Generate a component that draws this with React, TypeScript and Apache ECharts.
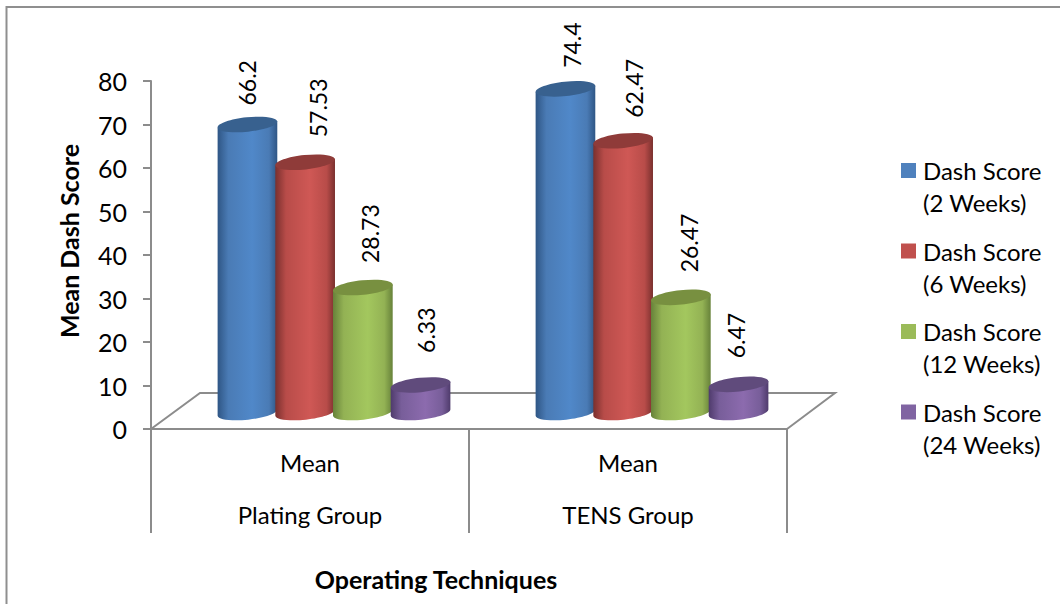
import React, { useEffect, useRef } from "react";
import * as echarts from "echarts";

const groups = ["Plating Group", "TENS Group"];
const statistics = ["Mean", "Mean"];
const seriesNames = [
  "Dash Score (2 Weeks)",
  "Dash Score (6 Weeks)",
  "Dash Score (12 Weeks)",
  "Dash Score (24 Weeks)",
];
const week2 = [66.2, 74.4];
const week6 = [57.53, 62.47];
const week12 = [28.73, 26.47];
const week24 = [6.33, 6.47];
const seriesValues = [week2, week6, week12, week24];

const FONT = "Lato";
const AXIS_GREY = "#8c8c8c";

// legend swatch, cylinder edge, cylinder highlight, top cap
const palette = [
  { base: "#4a7bb5", edge: "#2f5685", light: "#5088c9", cap: "#38618f" },
  { base: "#b84c49", edge: "#7a302e", light: "#cf5855", cap: "#8f3b39" },
  { base: "#93b254", edge: "#67823a", light: "#a3c75e", cap: "#789040" },
  { base: "#785e9a", edge: "#4f3b6c", light: "#8c6bae", cap: "#604b7c" },
];
const legendColors = ["#4f81bd", "#c0504d", "#9bbb59", "#8064a2"];

const BAR_RX = 30;
const CAP_RY = 7.2;
const TILT = (-6 * Math.PI) / 180;
const BAR_STEP = 57.7; // horizontal distance between neighbouring cylinders
const DEPTH_X = 24; // floor shift of the bars towards the back of the box
const DEPTH_Y = 16.5;

// value label nudges [dx, gap above cap centre], per series then per group
const labelNudge = [
  [[0, 19], [7, 21]],
  [[12.5, 25], [11, 23]],
  [[7, 24.5], [8, 25]],
  [[5, 32], [-3, 26]],
];

const KAPPA = 0.5523;
const MAJOR = { x: BAR_RX * Math.cos(TILT), y: BAR_RX * Math.sin(TILT) };
const MINOR = { x: -CAP_RY * Math.sin(TILT), y: CAP_RY * Math.cos(TILT) };

// Half of a tilted ellipse, from the centre minus `a` to the centre plus `a`, bulging along `b`.
function halfEllipse(ctx: any, cx: number, cy: number, a: any, b: any) {
  ctx.bezierCurveTo(
    cx - a.x + KAPPA * b.x, cy - a.y + KAPPA * b.y,
    cx + b.x - KAPPA * a.x, cy + b.y - KAPPA * a.y,
    cx + b.x, cy + b.y
  );
  ctx.bezierCurveTo(
    cx + b.x + KAPPA * a.x, cy + b.y + KAPPA * a.y,
    cx + a.x + KAPPA * b.x, cy + a.y + KAPPA * b.y,
    cx + a.x, cy + a.y
  );
}

const neg = (v: any) => ({ x: -v.x, y: -v.y });

echarts.graphic.registerShape(
  "cylinderBody",
  echarts.graphic.extendShape({
    shape: { cx: 0, top: 0, base: 0 },
    buildPath(ctx: any, s: any) {
      ctx.moveTo(s.cx - MAJOR.x, s.top - MAJOR.y);
      ctx.lineTo(s.cx - MAJOR.x, s.base - MAJOR.y);
      halfEllipse(ctx, s.cx, s.base, MAJOR, MINOR);
      ctx.lineTo(s.cx + MAJOR.x, s.top + MAJOR.y);
      ctx.closePath();
    },
  })
);

echarts.graphic.registerShape(
  "cylinderCap",
  echarts.graphic.extendShape({
    shape: { cx: 0, top: 0 },
    buildPath(ctx: any, s: any) {
      ctx.moveTo(s.cx - MAJOR.x, s.top - MAJOR.y);
      halfEllipse(ctx, s.cx, s.top, MAJOR, neg(MINOR));
      halfEllipse(ctx, s.cx, s.top, neg(MAJOR), MINOR);
      ctx.closePath();
    },
  })
);

function cylinderRenderer(seriesIndex: number) {
  const colors = palette[seriesIndex];
  return (params: any, api: any) => {
    const group = api.value(0);
    const value = api.value(1);
    const topPt = api.coord([group, value]);
    const zeroPt = api.coord([group, 0]);
    const cx = topPt[0] + DEPTH_X + (seriesIndex - 1.5) * BAR_STEP;
    const top = topPt[1] - DEPTH_Y;
    const base = zeroPt[1] - DEPTH_Y;
    const nudge = labelNudge[seriesIndex][group];
    return {
      type: "group",
      children: [
        {
          type: "cylinderBody",
          shape: { cx, top, base },
          style: {
            fill: new echarts.graphic.LinearGradient(0, 0, 1, 0, [
              { offset: 0, color: colors.edge },
              { offset: 0.18, color: colors.base },
              { offset: 0.58, color: colors.light },
              { offset: 0.86, color: colors.base },
              { offset: 1, color: colors.edge },
            ]),
          },
        },
        {
          type: "cylinderCap",
          shape: { cx, top },
          style: { fill: colors.cap },
        },
        {
          type: "text",
          x: cx + nudge[0],
          y: top - nudge[1],
          rotation: Math.PI / 2,
          style: {
            text: String(value),
            fill: "#000",
            font: `23px ${FONT}`,
            textAlign: "left",
            textVerticalAlign: "middle",
          },
        },
      ],
    };
  };
}

export default function App() {
  const ref = useRef<HTMLDivElement>(null);

  useEffect(() => {
    document.body.style.margin = "0";
    const chart = echarts.init(ref.current!, undefined, { renderer: "svg" });
    chart.setOption({
      animation: false,
      backgroundColor: "#fff",
      textStyle: { fontFamily: FONT, color: "#000" },
      grid: { left: 151, right: 273, top: 81, bottom: 175, containLabel: false },
      graphic: [
        // outer chart frame
        {
          type: "polyline",
          shape: { points: [[6.5, 604], [6.5, 7], [1060, 7]] },
          style: { stroke: "#8f8f8f", lineWidth: 2, fill: "none" },
        },
        // floor of the 3-D box
        {
          type: "polyline",
          shape: { points: [[151, 429], [200, 393], [835, 393], [787, 429]] },
          style: { stroke: AXIS_GREY, lineWidth: 2, fill: "none" },
        },
      ],
      legend: {
        orient: "vertical",
        left: 896,
        top: 113.5,
        itemWidth: 15,
        itemHeight: 15,
        itemGap: -23.5,
        icon: "rect",
        data: seriesNames.map((name, i) => ({ name, itemStyle: { color: legendColors[i] } })),
        formatter: (name: string) => {
          const cut = name.indexOf(" (");
          return `\n${name.slice(0, cut)}\n${name.slice(cut + 1)}`;
        },
        textStyle: { fontFamily: FONT, fontSize: 24, lineHeight: 32, color: "#000", padding: [0, 0, 8, 2] },
      },
      xAxis: [
        {
          type: "category",
          data: statistics,
          position: "bottom",
          axisLine: { lineStyle: { color: AXIS_GREY, width: 2 } },
          axisTick: { show: true, length: 104, lineStyle: { color: AXIS_GREY, width: 2 } },
          axisLabel: { fontFamily: FONT, fontSize: 24, color: "#000", margin: 21 },
        },
        {
          type: "category",
          data: groups,
          position: "bottom",
          offset: 52,
          axisLine: { show: false },
          axisTick: { show: false },
          axisLabel: { fontFamily: FONT, fontSize: 24, color: "#000", margin: 21 },
          name: "Operating Techniques",
          nameLocation: "middle",
          nameGap: 85,
          nameTextStyle: {
            fontFamily: FONT,
            fontSize: 25,
            fontWeight: "bold",
            color: "#000",
            padding: [0, 66, 0, 0],
          },
        },
      ],
      yAxis: {
        type: "value",
        min: 0,
        max: 80,
        interval: 10,
        splitLine: { show: false },
        axisLine: { show: true, lineStyle: { color: AXIS_GREY, width: 2 } },
        axisTick: { show: true, length: 8, lineStyle: { color: AXIS_GREY, width: 2 } },
        axisLabel: { fontFamily: FONT, fontSize: 25, color: "#000", margin: 24, padding: [2, 0, 0, 0] },
        name: "Mean Dash Score",
        nameLocation: "middle",
        nameGap: 70,
        nameTextStyle: {
          fontFamily: FONT,
          fontSize: 25,
          fontWeight: "bold",
          color: "#000",
          padding: [0, 0, 0, 28],
        },
      },
      series: seriesNames.map((name, i) => ({
        type: "custom",
        name,
        xAxisIndex: 0,
        yAxisIndex: 0,
        z: 3 + i,
        itemStyle: { color: legendColors[i] },
        encode: { x: 0, y: 1 },
        data: seriesValues[i].map((v, g) => [g, v]),
        renderItem: cylinderRenderer(i),
      })),
    });
    return () => chart.dispose();
  }, []);

  return (
    <div
      ref={ref}
      style={{ position: "absolute", left: 0, top: 0, width: 1060, height: 604 }}
    />
  );
}
